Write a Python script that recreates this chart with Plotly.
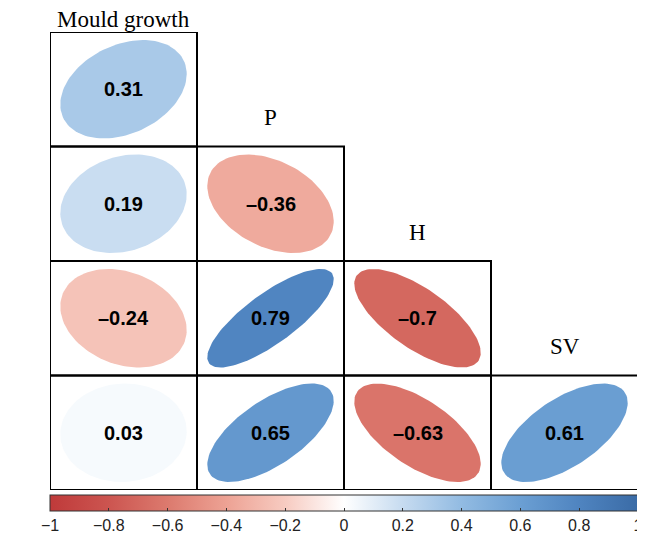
import numpy as np
import plotly.graph_objects as go
from plotly.colors import sample_colorscale

# correlation matrix, lower triangle
row_labels = ["P", "H", "SV", "OA"]
col_labels = ["Mould growth", "P", "H", "SV"]
corr_P = [0.31]
corr_H = [0.19, -0.36]
corr_SV = [-0.24, 0.79, -0.70]
corr_OA = [0.03, 0.65, -0.63, 0.61]
corr_rows = [corr_P, corr_H, corr_SV, corr_OA]
cbar_ticks = [-1, -0.8, -0.6, -0.4, -0.2, 0, 0.2, 0.4, 0.6, 0.8, 1]

scale = [
    [0.0, "#bf3a3a"], [0.1, "#cc5550"], [0.2, "#dc7a6e"], [0.3, "#eda294"],
    [0.4, "#f7cbc1"], [0.5, "#ffffff"], [0.6, "#c6dbf0"], [0.7, "#92bbe2"],
    [0.8, "#6b9fd3"], [0.9, "#4f84c0"], [1.0, "#3a6ba6"],
]

serif = "Liberation Serif, Times New Roman"
n = len(row_labels)
fig = go.Figure()
t = np.linspace(0, 2 * np.pi, 120)
cx, cy, cv = [], [], []

for i, vals in enumerate(corr_rows):
    yc = n - i - 0.5
    for j, r in enumerate(vals):
        xc = j + 0.5
        d = np.arccos(r)
        ex = xc + 0.43 * np.cos(t + d / 2)
        ey = yc + 0.43 * np.cos(t - d / 2)
        col = sample_colorscale(scale, [(r + 1) / 2])[0]
        fig.add_trace(go.Scatter(x=ex, y=ey, fill="toself", fillcolor=col,
                                 line=dict(width=0), mode="lines",
                                 hoverinfo="skip", showlegend=False))
        fig.add_shape(type="rect", x0=j, x1=j + 1, y0=yc - 0.5, y1=yc + 0.5,
                      line=dict(color="black", width=2), layer="above")
        txt = f"{r:g}".replace("-", "–")
        fig.add_annotation(x=xc, y=yc, text=f"<b>{txt}</b>", showarrow=False,
                           font=dict(family="Liberation Sans, Arial", size=20, color="black"))
        cx.append(xc); cy.append(yc); cv.append(r)
    # row label on the left
    fig.add_annotation(x=-0.15, y=yc, text=row_labels[i], showarrow=False,
                       font=dict(family=serif, size=23, color="black"))

# column headers above the top cell of each column
for j, name in enumerate(col_labels):
    fig.add_annotation(x=j + 0.5, y=n - j, yshift=13 if j == 0 else 29,
                       text=name, showarrow=False,
                       font=dict(family=serif, size=23, color="black"))

# invisible trace that carries the colour bar
fig.add_trace(go.Scatter(
    x=cx, y=cy, mode="markers", hoverinfo="skip", showlegend=False,
    marker=dict(size=1, opacity=0, color=cv, cmin=-1, cmax=1, colorscale=scale,
                showscale=True,
                colorbar=dict(orientation="h", x=0.5, xanchor="center", y=-0.01,
                              yanchor="top", len=1, lenmode="fraction",
                              thickness=16, xpad=0, ypad=0,
                              outlinewidth=1, outlinecolor="#333",
                              tickvals=cbar_ticks, ticks="inside", ticklen=3,
                              tickcolor="#333", ticklabeloverflow="allow",
                              tickfont=dict(family="Liberation Sans, Arial", size=16, color="#222")))))

fig.update_xaxes(range=[0, n], visible=False, fixedrange=True)
fig.update_yaxes(range=[0, n], visible=False, fixedrange=True)
# page body adds an 8px offset, so the figure is 8px smaller than the window
fig.update_layout(
    width=637, height=525,
    margin=dict(l=42, r=7, t=24, b=43, autoexpand=False),
    plot_bgcolor="white", paper_bgcolor="white",
)
fig.write_html("out.html")
